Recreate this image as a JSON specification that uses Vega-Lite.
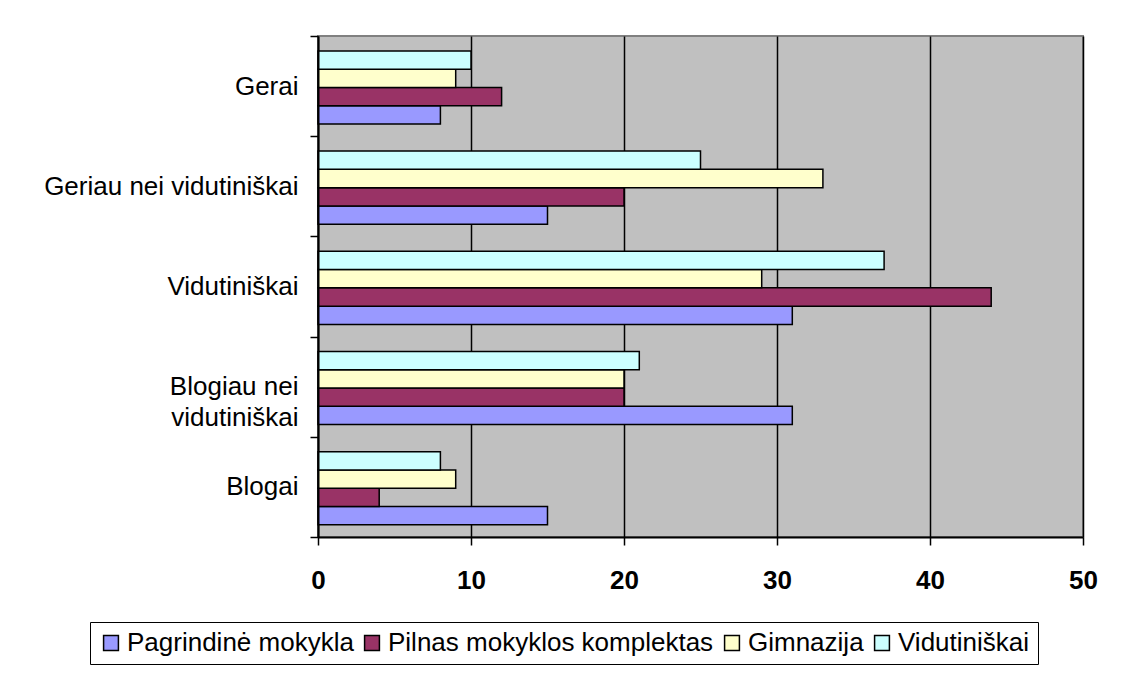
{
  "$schema": "https://vega.github.io/schema/vega-lite/v6.json",
  "width": 765,
  "height": 501,
  "autosize": {"type": "none"},
  "padding": {"left": 318, "top": 36, "right": 48, "bottom": 142},
  "background": "white",
  "config": {
    "font": "Liberation Sans",
    "view": {"fill": "#C0C0C0", "stroke": "#808080", "strokeWidth": 2}
  },
  "data": {
    "values": [
      {"rating": "Gerai", "school": "Pagrindinė mokykla", "value": 8},
      {"rating": "Gerai", "school": "Pilnas mokyklos komplektas", "value": 12},
      {"rating": "Gerai", "school": "Gimnazija", "value": 9},
      {"rating": "Gerai", "school": "Vidutiniškai", "value": 10},
      {"rating": "Geriau nei vidutiniškai", "school": "Pagrindinė mokykla", "value": 15},
      {"rating": "Geriau nei vidutiniškai", "school": "Pilnas mokyklos komplektas", "value": 20},
      {"rating": "Geriau nei vidutiniškai", "school": "Gimnazija", "value": 33},
      {"rating": "Geriau nei vidutiniškai", "school": "Vidutiniškai", "value": 25},
      {"rating": "Vidutiniškai", "school": "Pagrindinė mokykla", "value": 31},
      {"rating": "Vidutiniškai", "school": "Pilnas mokyklos komplektas", "value": 44},
      {"rating": "Vidutiniškai", "school": "Gimnazija", "value": 29},
      {"rating": "Vidutiniškai", "school": "Vidutiniškai", "value": 37},
      {"rating": "Blogiau nei vidutiniškai", "school": "Pagrindinė mokykla", "value": 31},
      {"rating": "Blogiau nei vidutiniškai", "school": "Pilnas mokyklos komplektas", "value": 20},
      {"rating": "Blogiau nei vidutiniškai", "school": "Gimnazija", "value": 20},
      {"rating": "Blogiau nei vidutiniškai", "school": "Vidutiniškai", "value": 21},
      {"rating": "Blogai", "school": "Pagrindinė mokykla", "value": 15},
      {"rating": "Blogai", "school": "Pilnas mokyklos komplektas", "value": 4},
      {"rating": "Blogai", "school": "Gimnazija", "value": 9},
      {"rating": "Blogai", "school": "Vidutiniškai", "value": 8}
    ]
  },
  "mark": {"type": "bar", "stroke": "black", "strokeWidth": 1.5},
  "encoding": {
    "y": {
      "field": "rating",
      "type": "nominal",
      "sort": ["Gerai", "Geriau nei vidutiniškai", "Vidutiniškai", "Blogiau nei vidutiniškai", "Blogai"],
      "scale": {"paddingInner": 0, "paddingOuter": 0},
      "axis": {
        "title": null,
        "zindex": 1,
        "tickBand": "extent",
        "domainColor": "black",
        "domainWidth": 2,
        "tickColor": "black",
        "tickWidth": 1.5,
        "tickSize": 8,
        "labelFontSize": 26,
        "labelColor": "black",
        "labelPadding": 12,
        "labelLineHeight": 31,
        "labelLimit": 400,
        "labelExpr": "datum.label == 'Blogiau nei vidutiniškai' ? ['Blogiau nei', 'vidutiniškai'] : datum.label",
        "encode": {
          "labels": {
            "update": {
              "dx": {"signal": "datum.value == 'Geriau nei vidutiniškai' ? 0 : (datum.value == 'Blogiau nei vidutiniškai' ? -5 : -8)"}
            }
          }
        }
      }
    },
    "yOffset": {
      "field": "school",
      "type": "nominal",
      "scale": {
        "domain": ["Vidutiniškai", "Gimnazija", "Pilnas mokyklos komplektas", "Pagrindinė mokykla"],
        "paddingInner": 0,
        "paddingOuter": 0.74,
        "align": 0.55
      }
    },
    "x": {
      "field": "value",
      "type": "quantitative",
      "scale": {"domain": [0, 50], "nice": false},
      "axis": {
        "title": null,
        "values": [0, 10, 20, 30, 40, 50],
        "grid": true,
        "gridColor": "black",
        "gridWidth": 1.5,
        "gridOpacity": 1,
        "domainColor": "black",
        "domainWidth": 2,
        "tickColor": "black",
        "tickWidth": 1.5,
        "tickSize": 8,
        "labelFontSize": 26,
        "labelFontWeight": "bold",
        "labelColor": "black",
        "labelPadding": 22,
        "labelFlush": false
      }
    },
    "color": {
      "field": "school",
      "type": "nominal",
      "scale": {
        "domain": ["Pagrindinė mokykla", "Pilnas mokyklos komplektas", "Gimnazija", "Vidutiniškai"],
        "range": ["#9999FF", "#993366", "#FFFFCC", "#CCFFFF"]
      },
      "legend": {
        "title": null,
        "orient": "none",
        "legendX": -228,
        "legendY": 586,
        "direction": "horizontal",
        "columns": 4,
        "strokeColor": "black",
        "fillColor": "white",
        "padding": 8,
        "symbolType": "square",
        "symbolSize": 220,
        "symbolStrokeColor": "black",
        "symbolStrokeWidth": 1.5,
        "symbolOpacity": 1,
        "labelFontSize": 26,
        "labelColor": "black",
        "labelOffset": 3,
        "labelLimit": 400,
        "columnPadding": 5
      }
    }
  }
}
